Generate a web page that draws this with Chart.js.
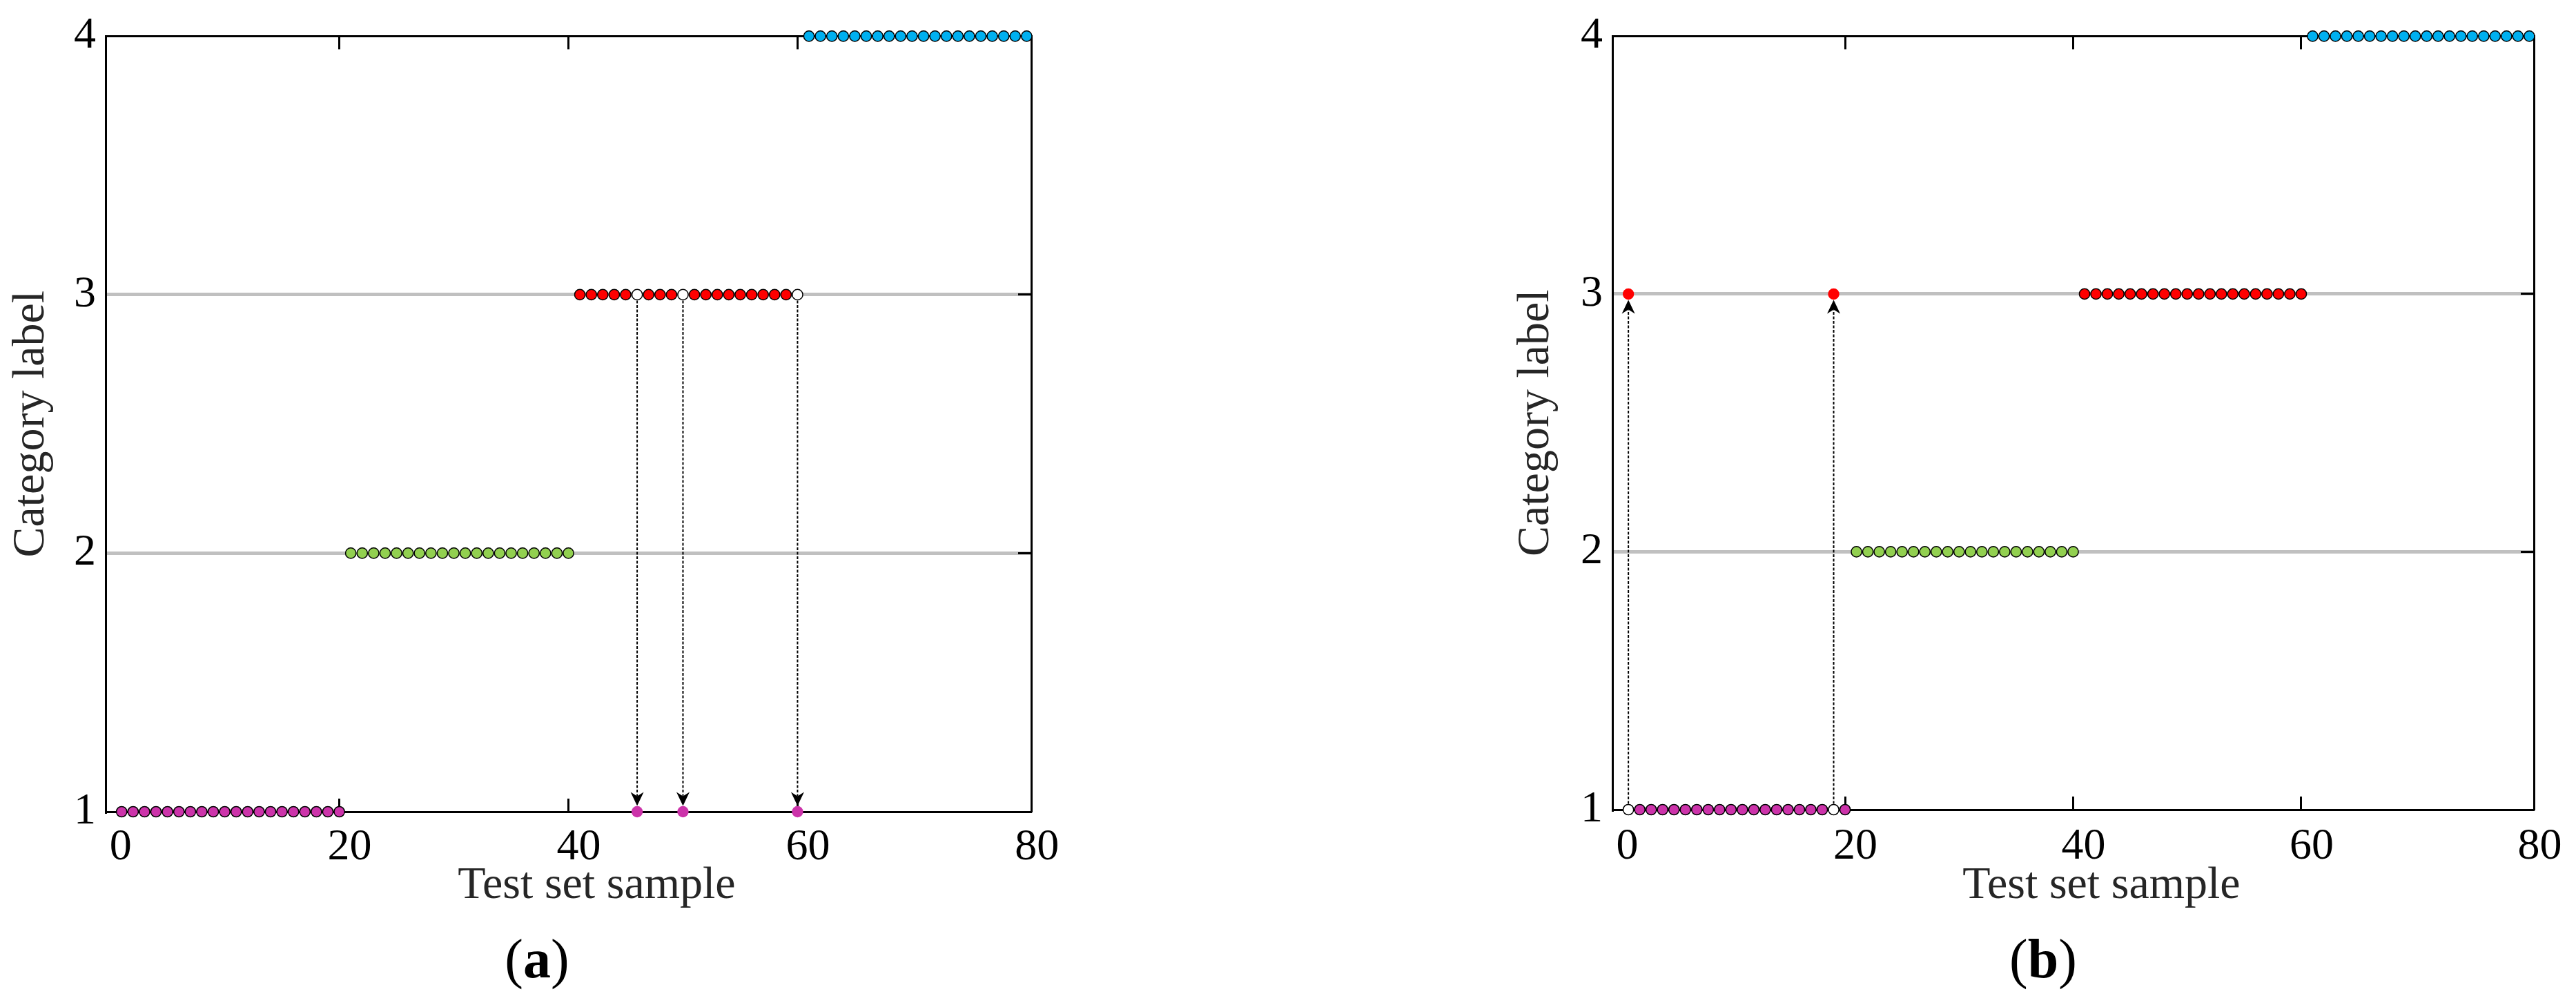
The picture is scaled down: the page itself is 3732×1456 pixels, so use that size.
<!DOCTYPE html>
<html lang="en">
<head>
<meta charset="UTF-8" />
<title>Test set classification</title>
<script src="https://cdn.jsdelivr.net/npm/chart.js"></script>
<style>
  html, body { margin: 0; padding: 0; background: #fff; }
  body { width: 3732px; height: 1456px; position: relative; overflow: hidden; font-family: "Liberation Serif", serif; }
  .panel { position: absolute; top: 0; }
  .caption { position: absolute; width: 240px; text-align: center; font-size: 80px; line-height: 80px; color: #000; }
</style>
</head>
<body>

<div class="panel" style="left:0px"><canvas id="chartA" width="1560" height="1456"></canvas></div>
<div class="panel" style="left:2176px"><canvas id="chartB" width="1556" height="1456"></canvas></div>
<div class="caption" style="left:658px; top:1349px">(<b>a</b>)</div>
<div class="caption" style="left:2840px; top:1349px">(<b>b</b>)</div>

<script>
// test set sample numbers
const sampleNo = [
   1,  2,  3,  4,  5,  6,  7,  8,  9, 10, 11, 12, 13, 14, 15, 16, 17, 18, 19, 20,
  21, 22, 23, 24, 25, 26, 27, 28, 29, 30, 31, 32, 33, 34, 35, 36, 37, 38, 39, 40,
  41, 42, 43, 44, 45, 46, 47, 48, 49, 50, 51, 52, 53, 54, 55, 56, 57, 58, 59, 60,
  61, 62, 63, 64, 65, 66, 67, 68, 69, 70, 71, 72, 73, 74, 75, 76, 77, 78, 79, 80
];

// actual category of each sample
const trueLabel = [
  1, 1, 1, 1, 1, 1, 1, 1, 1, 1, 1, 1, 1, 1, 1, 1, 1, 1, 1, 1,
  2, 2, 2, 2, 2, 2, 2, 2, 2, 2, 2, 2, 2, 2, 2, 2, 2, 2, 2, 2,
  3, 3, 3, 3, 3, 3, 3, 3, 3, 3, 3, 3, 3, 3, 3, 3, 3, 3, 3, 3,
  4, 4, 4, 4, 4, 4, 4, 4, 4, 4, 4, 4, 4, 4, 4, 4, 4, 4, 4, 4
];

// predicted category, panel (a)
const predLabelA = [
  1, 1, 1, 1, 1, 1, 1, 1, 1, 1, 1, 1, 1, 1, 1, 1, 1, 1, 1, 1,
  2, 2, 2, 2, 2, 2, 2, 2, 2, 2, 2, 2, 2, 2, 2, 2, 2, 2, 2, 2,
  3, 3, 3, 3, 3, 1, 3, 3, 3, 1, 3, 3, 3, 3, 3, 3, 3, 3, 3, 1,
  4, 4, 4, 4, 4, 4, 4, 4, 4, 4, 4, 4, 4, 4, 4, 4, 4, 4, 4, 4
];

// predicted category, panel (b)
const predLabelB = [
  3, 1, 1, 1, 1, 1, 1, 1, 1, 1, 1, 1, 1, 1, 1, 1, 1, 1, 3, 1,
  2, 2, 2, 2, 2, 2, 2, 2, 2, 2, 2, 2, 2, 2, 2, 2, 2, 2, 2, 2,
  3, 3, 3, 3, 3, 3, 3, 3, 3, 3, 3, 3, 3, 3, 3, 3, 3, 3, 3, 3,
  4, 4, 4, 4, 4, 4, 4, 4, 4, 4, 4, 4, 4, 4, 4, 4, 4, 4, 4, 4
];

const classColors = ['#cc33aa', '#92d050', '#ff0000', '#00b0f0'];
const xTicks = [0, 20, 40, 60, 80];
const yTicks = [1, 2, 3, 4];

const SERIF = 'Liberation Serif';
const CLEAR = 'rgba(0,0,0,0)';

// split samples into correct ones, and the true/predicted spots of wrong ones
function splitPoints(pred) {
  const correct = [], wrongTrue = [], wrongPred = [];
  sampleNo.forEach((s, i) => {
    if (pred[i] === trueLabel[i]) {
      correct.push({ x: s, y: trueLabel[i], c: trueLabel[i] });
    } else {
      wrongTrue.push({ x: s, y: trueLabel[i] });
      wrongPred.push({ x: s, y: pred[i], c: pred[i] });
    }
  });
  return { correct, wrongTrue, wrongPred };
}

// dashed arrows from the true label to the predicted one
const arrowPlugin = {
  id: 'misclassArrows',
  beforeDatasetsDraw(chart, args, opts) {
    const { ctx, scales: { x, y } } = chart;
    const r = 8.5, headLen = 20, headHalf = 9.5, notch = 6;
    ctx.save();
    ctx.strokeStyle = '#000';
    ctx.fillStyle = '#000';
    opts.arrows.forEach(a => {
      const px = x.getPixelForValue(a.x);
      const y0 = y.getPixelForValue(a.from);
      const y1 = y.getPixelForValue(a.to);
      const dir = Math.sign(y1 - y0);
      const tip = y1 - dir * r;
      const base = tip - dir * headLen;
      ctx.lineWidth = 2;
      ctx.setLineDash([4, 2.5]);
      ctx.beginPath();
      ctx.moveTo(px, y0 + dir * r);
      ctx.lineTo(px, base + dir * notch);
      ctx.stroke();
      ctx.setLineDash([]);
      ctx.beginPath();
      ctx.moveTo(px, tip);
      ctx.lineTo(px - headHalf, base);
      ctx.lineTo(px, base + dir * notch);
      ctx.lineTo(px + headHalf, base);
      ctx.closePath();
      ctx.fill();
    });
    ctx.restore();
  }
};

// the x title sits a little right of the plot centre in the original
function shiftTitle(scale, dx) {
  if (scale._titleShifted) return;
  const draw = scale.drawTitle;
  scale.drawTitle = function () {
    this.ctx.save();
    this.ctx.translate(dx, 0);
    draw.call(this);
    this.ctx.restore();
  };
  scale._titleShifted = true;
}

const fillFor = c => (c.raw && c.raw.c) ? classColors[c.raw.c - 1] : '#000';

function makeChart(id, pred, g) {
  const pts = splitPoints(pred);
  const arrows = pts.wrongPred.map((p, i) => ({ x: p.x, from: pts.wrongTrue[i].y, to: p.y }));

  return new Chart(document.getElementById(id), {
    type: 'scatter',
    data: {
      datasets: [
        { data: pts.correct, pointRadius: 7.6, pointBorderWidth: 1.5, pointBorderColor: '#000',
          pointBackgroundColor: fillFor, clip: false },
        { data: pts.wrongTrue, pointRadius: 7.6, pointBorderWidth: 1.5, pointBorderColor: '#000',
          pointBackgroundColor: '#fff', clip: false },
        { data: pts.wrongPred, pointRadius: 8.2, pointBorderWidth: 0, pointBorderColor: CLEAR,
          pointBackgroundColor: fillFor, clip: false }
      ]
    },
    options: {
      responsive: false,
      animation: false,
      events: [],
      layout: { padding: { top: g.top, left: 0, right: 0, bottom: 0 } },
      plugins: {
        legend: { display: false },
        tooltip: { enabled: false },
        misclassArrows: { arrows: arrows }
      },
      scales: {
        x: {
          type: 'linear', position: 'bottom', min: -0.4, max: 80.4, bounds: 'data',
          afterBuildTicks: s => { s.ticks = xTicks.map(v => ({ value: v })); },
          afterFit: s => { s.height = g.xh; shiftTitle(s, 41); },
          border: { color: '#000', width: 3 },
          grid: {
            drawOnChartArea: false, drawTicks: true, tickLength: -19, tickWidth: 3,
            tickColor: c => (c.tick && c.tick.value > 0 && c.tick.value < 80) ? '#000' : CLEAR
          },
          ticks: { font: { family: SERIF, size: 64 }, color: '#000', padding: g.xtp,
                   labelOffset: 15, maxRotation: 0, autoSkip: false },
          title: { display: true, text: 'Test set sample', font: { family: SERIF, size: 66 },
                   color: '#262626', padding: { top: 0, bottom: 133 } }
        },
        x2: {
          type: 'linear', position: 'top', min: -0.4, max: 80.4, bounds: 'data',
          afterBuildTicks: s => { s.ticks = xTicks.map(v => ({ value: v })); },
          afterFit: s => { s.height = 0; },
          border: { color: '#000', width: 3 },
          grid: {
            drawOnChartArea: false, drawTicks: true, tickLength: -19, tickWidth: 3,
            tickColor: c => (c.tick && c.tick.value > 0 && c.tick.value < 80) ? '#000' : CLEAR
          },
          ticks: { display: false }
        },
        y: {
          type: 'linear', position: 'left', min: 1, max: 4,
          afterBuildTicks: s => { s.ticks = yTicks.map(v => ({ value: v })); },
          afterFit: s => { s.width = g.yw; },
          border: { color: '#000', width: 3 },
          grid: {
            drawTicks: false, lineWidth: 5,
            color: c => (c.tick && (c.tick.value === 2 || c.tick.value === 3)) ? '#c0c0c0' : CLEAR
          },
          ticks: { font: { family: SERIF, size: 64 }, color: '#000', padding: 14 },
          title: { display: true, text: 'Category label', font: { family: SERIF, size: 66 },
                   color: '#262626', padding: { top: g.ytp, bottom: 0 } }
        },
        y2: {
          type: 'linear', position: 'right', min: 1, max: 4,
          afterBuildTicks: s => { s.ticks = yTicks.map(v => ({ value: v })); },
          afterFit: s => { s.width = g.y2w; },
          border: { color: '#000', width: 3 },
          grid: {
            drawOnChartArea: false, drawTicks: true, tickLength: -19, tickWidth: 3,
            tickColor: c => (c.tick && (c.tick.value === 2 || c.tick.value === 3)) ? '#000' : CLEAR
          },
          ticks: { display: false }
        }
      }
    },
    plugins: [arrowPlugin]
  });
}

makeChart('chartA', predLabelA, { top: 51, xh: 280, yw: 153, y2w: 66, xtp: 33, ytp: 6 });
makeChart('chartB', predLabelB, { top: 52, xh: 283, yw: 160, y2w: 61, xtp: 35, ytp: 10 });
</script>
</body>
</html>
